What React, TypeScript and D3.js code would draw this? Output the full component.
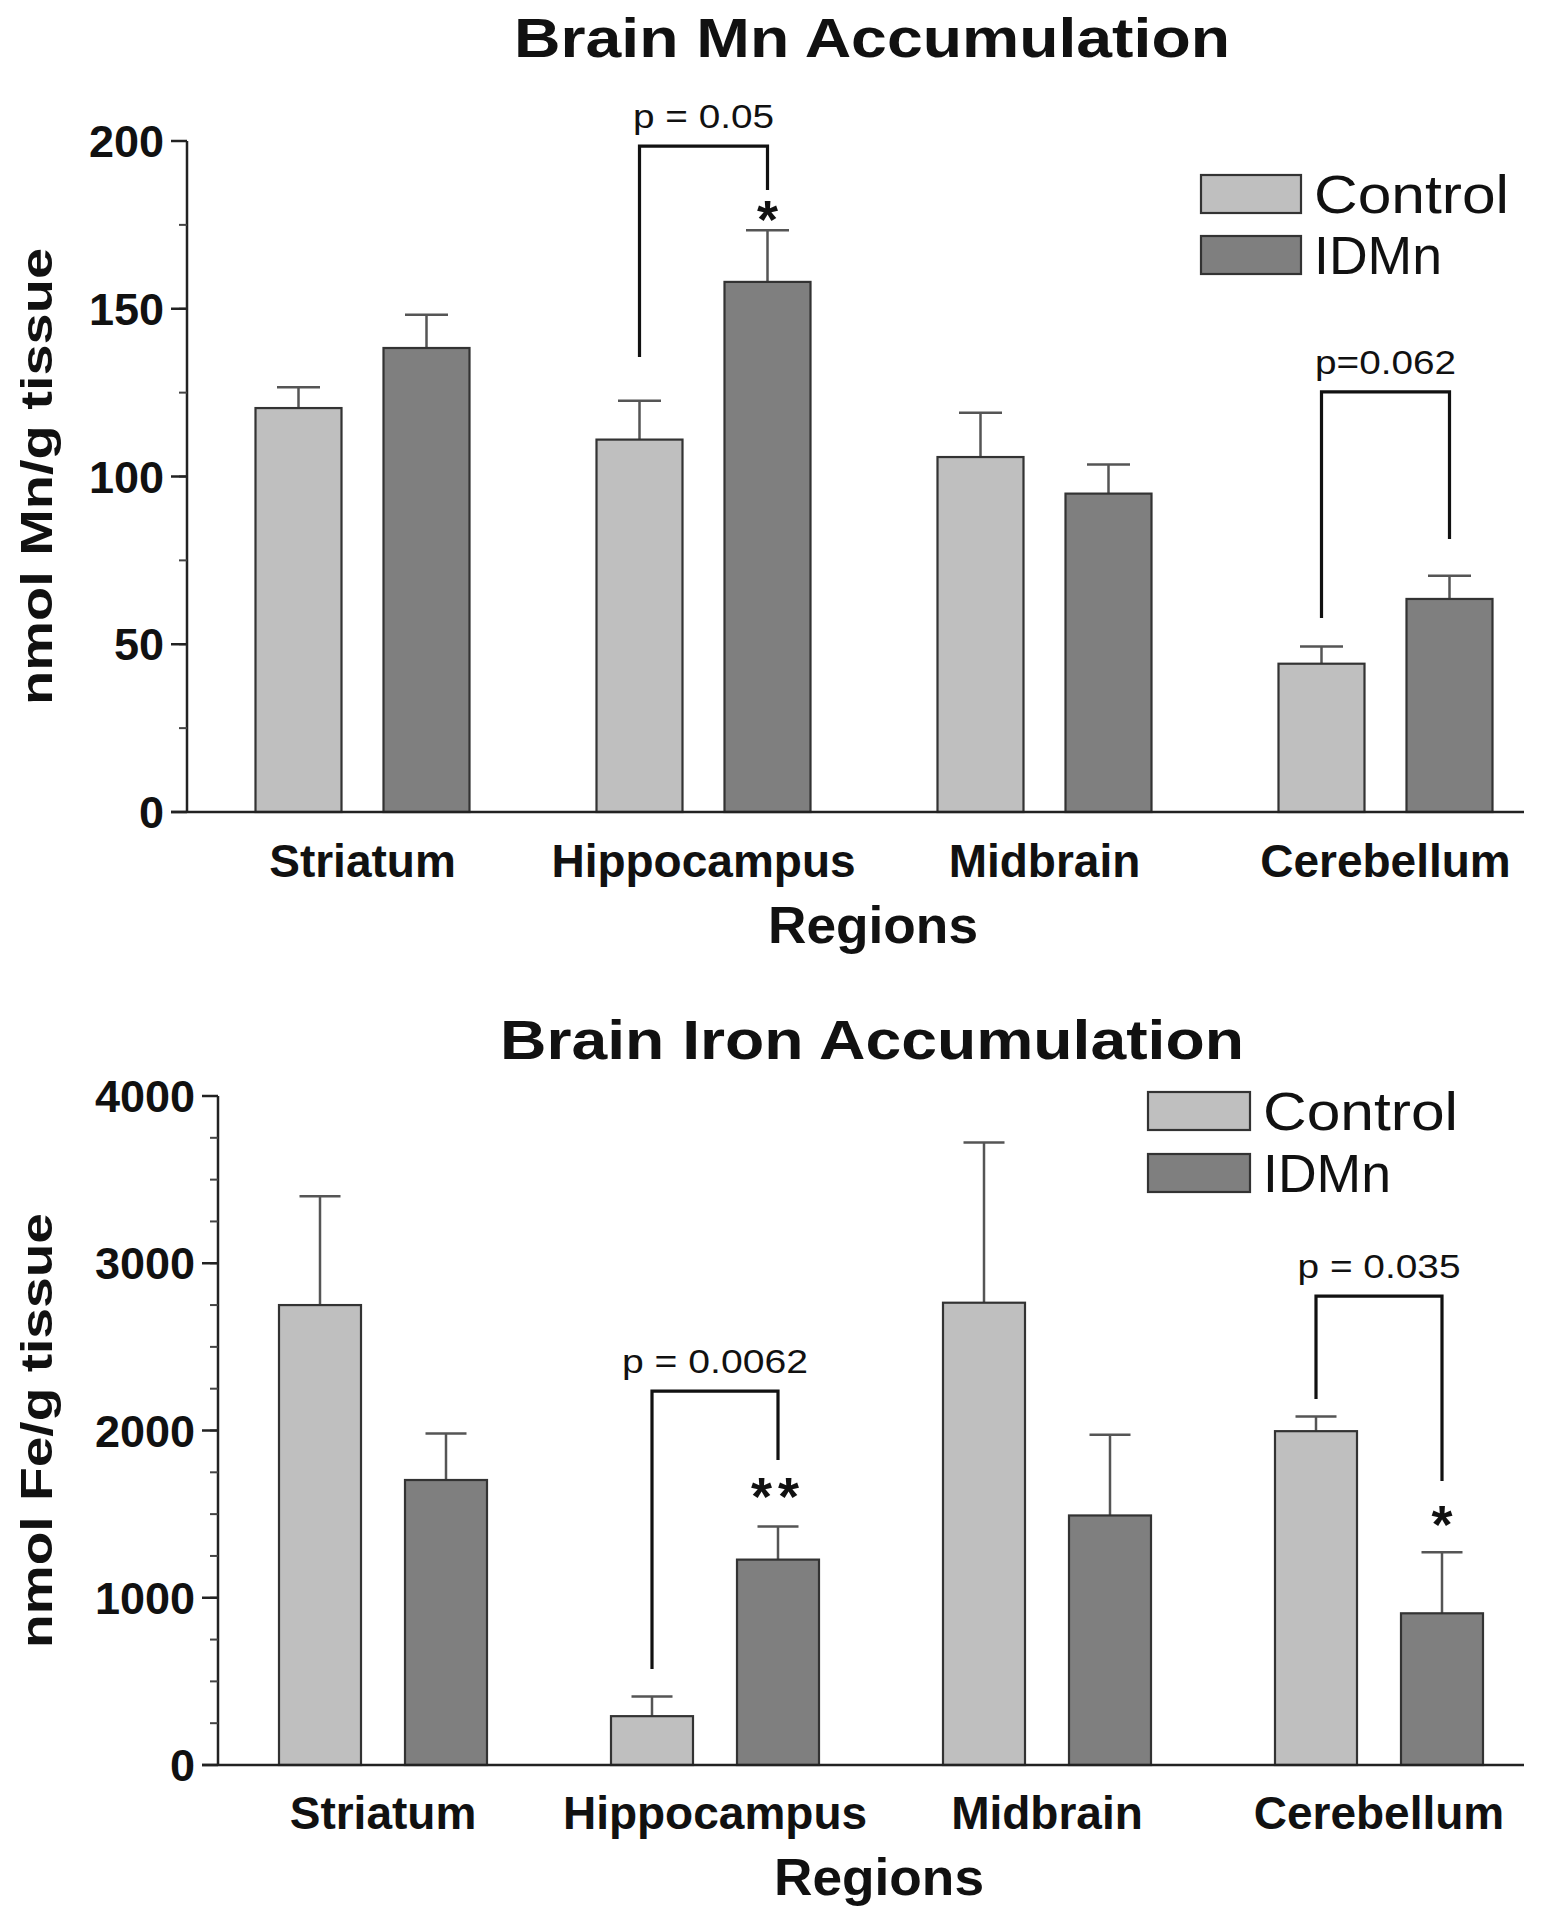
import React from "react";
import * as d3 from "d3";

const categories = ["Striatum", "Hippocampus", "Midbrain", "Cerebellum"];
const groups = ["Control", "IDMn"];

// Mn (nmol/g tissue)
const mnControl = [120.4, 111, 105.8, 44.2];
const mnControlErr = [6.2, 11.6, 13.2, 5.1];
const mnIDMn = [138.3, 158, 94.9, 63.5];
const mnIDMnErr = [9.9, 15.4, 8.7, 6.9];
const mnTicks = [0, 50, 100, 150, 200];

// Fe (nmol/g tissue)
const feControl = [2750, 292, 2764, 1996];
const feControlErr = [650, 118, 958, 88];
const feIDMn = [1704, 1228, 1492, 907];
const feIDMnErr = [278, 198, 482, 365];
const feTicks = [0, 1000, 2000, 3000, 4000];

// significance brackets: category, bracket top, left end, right end, p label, stars, star centre value
const mnBrackets = [
  { cat: "Hippocampus", top: 198.5, left: 135.6, right: 185.4, label: "p = 0.05", labelW: 141, stars: "*", starY: 178.7 },
  { cat: "Cerebellum", top: 125.2, left: 57.8, right: 81.4, label: "p=0.062", labelW: 141, stars: "", starY: 0 },
];
const feBrackets = [
  { cat: "Hippocampus", top: 2236, left: 574, right: 1824, label: "p = 0.0062", labelW: 186, stars: "**", starY: 1644 },
  { cat: "Cerebellum", top: 2804, left: 2188, right: 1698, label: "p = 0.035", labelW: 163, stars: "*", starY: 1477 },
];

const colors = { Control: "#bfbfbf", IDMn: "#7f7f7f" };
const FONT = "'Liberation Sans', Arial, Helvetica, sans-serif";

type PanelProps = {
  title: string;
  titleW: number;
  yLabel: string;
  yLabelW: number;
  control: number[];
  controlErr: number[];
  idmn: number[];
  idmnErr: number[];
  ticks: number[];
  minorStep: number;
  yMax: number;
  axisX: number;
  yTop: number;
  yBottom: number;
  xRange: [number, number];
  xAxisEnd: number;
  barWidth: number;
  barOffset: number;
  titleY: number;
  catY: number;
  regionsY: number;
  regionsX: number;
  yLabelX: number;
  legend: { x: number; y: number; w: number; h: number; gap: number };
  brackets: typeof mnBrackets;
};

function Panel(p: PanelProps) {
  const y = d3.scaleLinear().domain([0, p.yMax]).range([p.yBottom, p.yTop]);
  const x0 = d3.scaleBand<string>().domain(categories).range(p.xRange).padding(0);
  const step = x0.bandwidth();
  const x1 = d3
    .scaleBand<string>()
    .domain(groups)
    .range([step / 2 - p.barOffset - p.barWidth / 2, step / 2 + p.barOffset + p.barWidth / 2])
    .paddingInner(1 - p.barWidth / (2 * p.barOffset))
    .paddingOuter(0);
  const minor = d3.range(0, p.yMax + 0.001, p.minorStep);
  const series = [
    { g: "Control", vals: p.control, errs: p.controlErr },
    { g: "IDMn", vals: p.idmn, errs: p.idmnErr },
  ];
  const cx = (c: string, g: string) => (x0(c) as number) + (x1(g) as number) + x1.bandwidth() / 2;
  const capHalf = p.barWidth * 0.25;
  const legendW = { Control: 195, IDMn: 128 } as any;
  const starFs = 54;
  return (
    <g>
      <text x={872} y={p.titleY} textAnchor="middle" fontFamily={FONT} fontWeight="bold" fontSize={56} fill="#111" textLength={p.titleW} lengthAdjust="spacingAndGlyphs">
        {p.title}
      </text>
      {/* bars */}
      {series.map((s) =>
        categories.map((c, i) => {
          const xc = cx(c, s.g);
          return (
            <g key={s.g + c}>
              <line x1={xc} x2={xc} y1={y(s.vals[i])} y2={y(s.vals[i] + s.errs[i])} stroke="#555" strokeWidth={2.5} />
              <line x1={xc - capHalf} x2={xc + capHalf} y1={y(s.vals[i] + s.errs[i])} y2={y(s.vals[i] + s.errs[i])} stroke="#555" strokeWidth={2.5} />
              <rect
                x={xc - p.barWidth / 2}
                y={y(s.vals[i])}
                width={p.barWidth}
                height={y(0) - y(s.vals[i])}
                fill={(colors as any)[s.g]}
                stroke="#333"
                strokeWidth={2.2}
              />
            </g>
          );
        })
      )}
      {/* axes */}
      <line x1={p.axisX} x2={p.axisX} y1={p.yTop} y2={p.yBottom} stroke="#222" strokeWidth={2.5} />
      <line x1={p.axisX - 16} x2={p.xAxisEnd} y1={p.yBottom} y2={p.yBottom} stroke="#222" strokeWidth={2.5} />
      {minor.map((t) => (
        <line key={"m" + t} x1={p.axisX - 8} x2={p.axisX} y1={y(t)} y2={y(t)} stroke="#444" strokeWidth={2} />
      ))}
      {p.ticks.map((t) => (
        <g key={"t" + t}>
          <line x1={p.axisX - 16} x2={p.axisX} y1={y(t)} y2={y(t)} stroke="#222" strokeWidth={2.5} />
          <text x={p.axisX - 23} y={y(t)} dy="0.36em" textAnchor="end" fontFamily={FONT} fontWeight="bold" fontSize={45} fill="#111">
            {t}
          </text>
        </g>
      ))}
      {categories.map((c) => (
        <text key={"c" + c} x={(x0(c) as number) + step / 2} y={p.catY} textAnchor="middle" fontFamily={FONT} fontWeight="bold" fontSize={46} fill="#111">
          {c}
        </text>
      ))}
      <text x={p.regionsX} y={p.regionsY} textAnchor="middle" fontFamily={FONT} fontWeight="bold" fontSize={52} fill="#111" textLength={210} lengthAdjust="spacingAndGlyphs">
        Regions
      </text>
      <text
        transform={`translate(${p.yLabelX},${(p.yTop + p.yBottom) / 2}) rotate(-90)`}
        textAnchor="middle"
        fontFamily={FONT}
        fontWeight="bold"
        fontSize={44}
        fill="#111"
        textLength={p.yLabelW}
        lengthAdjust="spacingAndGlyphs"
      >
        {p.yLabel}
      </text>
      {/* legend */}
      {groups.map((g, i) => (
        <g key={"l" + g}>
          <rect
            x={p.legend.x}
            y={p.legend.y + i * p.legend.gap}
            width={p.legend.w}
            height={p.legend.h}
            fill={(colors as any)[g]}
            stroke="#333"
            strokeWidth={2.2}
          />
          <text
            x={p.legend.x + p.legend.w + 13}
            y={p.legend.y + i * p.legend.gap + p.legend.h}
            fontFamily={FONT}
            fontSize={54}
            fill="#111"
            textLength={legendW[g]}
            lengthAdjust="spacingAndGlyphs"
          >
            {g}
          </text>
        </g>
      ))}
      {/* brackets */}
      {p.brackets.map((b) => {
        const xl = cx(b.cat, "Control");
        const xr = cx(b.cat, "IDMn");
        return (
          <g key={"b" + b.cat}>
            <path d={`M${xl},${y(b.left)}V${y(b.top)}H${xr}V${y(b.right)}`} fill="none" stroke="#111" strokeWidth={3.2} />
            <text
              x={(xl + xr) / 2}
              y={y(b.top) - 18}
              textAnchor="middle"
              fontFamily={FONT}
              fontSize={33}
              fill="#111"
              textLength={b.labelW}
              lengthAdjust="spacingAndGlyphs"
            >
              {b.label}
            </text>
            {b.stars && (
              <text
                x={xr}
                y={y(b.starY) + starFs * 0.47}
                textAnchor="middle"
                fontFamily={FONT}
                fontWeight="bold"
                fontSize={starFs}
                fill="#111"
                letterSpacing={b.stars.length > 1 ? 6 : 0}
              >
                {b.stars}
              </text>
            )}
          </g>
        );
      })}
    </g>
  );
}

export default function App() {
  return (
    <svg width={1567} height={1920} style={{ display: "block", position: "absolute", left: 0, top: 0, background: "#fff" }}>
      <rect width={1567} height={1920} fill="#fff" />
      <Panel
        title="Brain Mn Accumulation"
        titleW={716}
        yLabel="nmol Mn/g tissue"
        yLabelW={457}
        control={mnControl}
        controlErr={mnControlErr}
        idmn={mnIDMn}
        idmnErr={mnIDMnErr}
        ticks={mnTicks}
        minorStep={25}
        yMax={200}
        axisX={187}
        yTop={141}
        yBottom={812}
        xRange={[192, 1556]}
        xAxisEnd={1524}
        barWidth={86}
        barOffset={64}
        titleY={57}
        catY={877}
        regionsY={943}
        regionsX={873}
        yLabelX={52}
        legend={{ x: 1201, y: 175, w: 100, h: 38, gap: 61 }}
        brackets={mnBrackets}
      />
      <Panel
        title="Brain Iron Accumulation"
        titleW={744}
        yLabel="nmol Fe/g tissue"
        yLabelW={435}
        control={feControl}
        controlErr={feControlErr}
        idmn={feIDMn}
        idmnErr={feIDMnErr}
        ticks={feTicks}
        minorStep={250}
        yMax={4000}
        axisX={218}
        yTop={1096}
        yBottom={1765}
        xRange={[217, 1545]}
        xAxisEnd={1524}
        barWidth={82}
        barOffset={63}
        titleY={1059}
        catY={1829}
        regionsY={1895}
        regionsX={879}
        yLabelX={52}
        legend={{ x: 1148, y: 1092, w: 102, h: 38, gap: 62 }}
        brackets={feBrackets}
      />
    </svg>
  );
}
